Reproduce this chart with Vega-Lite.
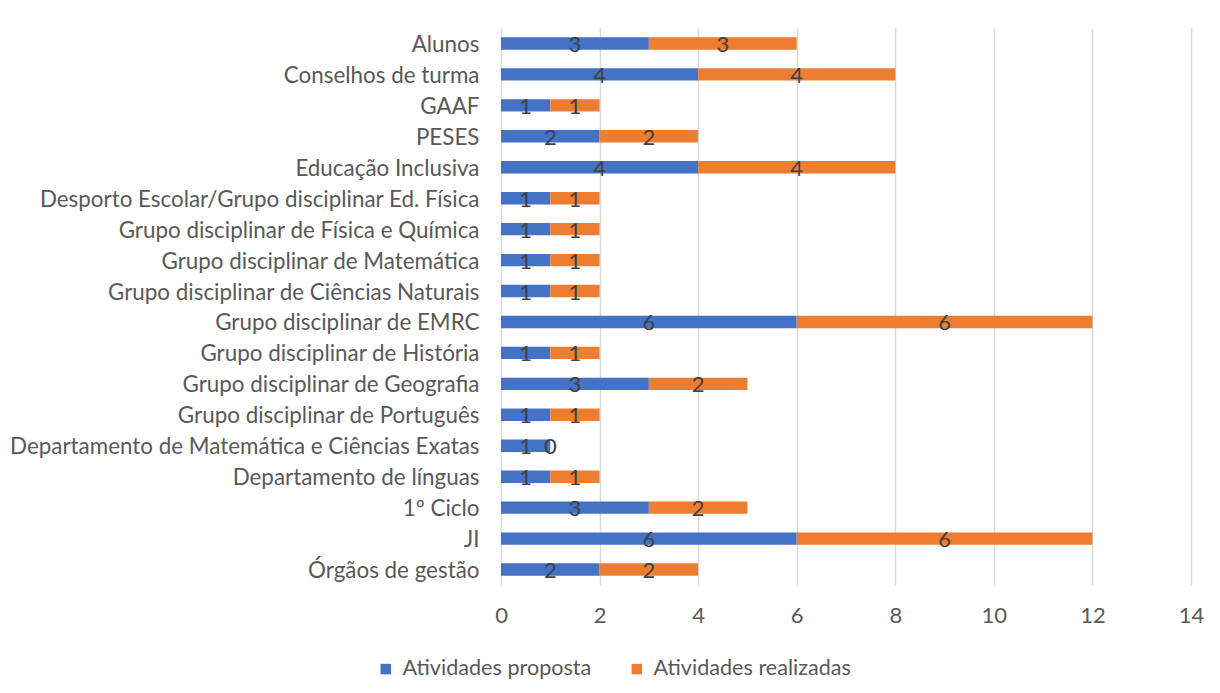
{
  "$schema": "https://vega.github.io/schema/vega-lite/v6.json",
  "width": 690,
  "height": 557,
  "autosize": {"type": "none"},
  "padding": {"left": 501, "top": 28, "right": 29, "bottom": 108},
  "background": "white",
  "config": {
    "font": "Lato",
    "view": {"stroke": null}
  },
  "data": {
    "values": [
      {"cat": "Alunos", "serie": "Atividades proposta", "v": 3},
      {"cat": "Alunos", "serie": "Atividades realizadas", "v": 3},
      {"cat": "Conselhos de turma", "serie": "Atividades proposta", "v": 4},
      {"cat": "Conselhos de turma", "serie": "Atividades realizadas", "v": 4},
      {"cat": "GAAF", "serie": "Atividades proposta", "v": 1},
      {"cat": "GAAF", "serie": "Atividades realizadas", "v": 1},
      {"cat": "PESES", "serie": "Atividades proposta", "v": 2},
      {"cat": "PESES", "serie": "Atividades realizadas", "v": 2},
      {"cat": "Educação Inclusiva", "serie": "Atividades proposta", "v": 4},
      {"cat": "Educação Inclusiva", "serie": "Atividades realizadas", "v": 4},
      {"cat": "Desporto Escolar/Grupo disciplinar Ed. Física", "serie": "Atividades proposta", "v": 1},
      {"cat": "Desporto Escolar/Grupo disciplinar Ed. Física", "serie": "Atividades realizadas", "v": 1},
      {"cat": "Grupo disciplinar de Física e Química", "serie": "Atividades proposta", "v": 1},
      {"cat": "Grupo disciplinar de Física e Química", "serie": "Atividades realizadas", "v": 1},
      {"cat": "Grupo disciplinar de Matemática", "serie": "Atividades proposta", "v": 1},
      {"cat": "Grupo disciplinar de Matemática", "serie": "Atividades realizadas", "v": 1},
      {"cat": "Grupo disciplinar de Ciências Naturais", "serie": "Atividades proposta", "v": 1},
      {"cat": "Grupo disciplinar de Ciências Naturais", "serie": "Atividades realizadas", "v": 1},
      {"cat": "Grupo disciplinar de EMRC", "serie": "Atividades proposta", "v": 6},
      {"cat": "Grupo disciplinar de EMRC", "serie": "Atividades realizadas", "v": 6},
      {"cat": "Grupo disciplinar de História", "serie": "Atividades proposta", "v": 1},
      {"cat": "Grupo disciplinar de História", "serie": "Atividades realizadas", "v": 1},
      {"cat": "Grupo disciplinar de Geografia", "serie": "Atividades proposta", "v": 3},
      {"cat": "Grupo disciplinar de Geografia", "serie": "Atividades realizadas", "v": 2},
      {"cat": "Grupo disciplinar de Português", "serie": "Atividades proposta", "v": 1},
      {"cat": "Grupo disciplinar de Português", "serie": "Atividades realizadas", "v": 1},
      {"cat": "Departamento de Matemática e Ciências Exatas", "serie": "Atividades proposta", "v": 1},
      {"cat": "Departamento de Matemática e Ciências Exatas", "serie": "Atividades realizadas", "v": 0},
      {"cat": "Departamento de línguas", "serie": "Atividades proposta", "v": 1},
      {"cat": "Departamento de línguas", "serie": "Atividades realizadas", "v": 1},
      {"cat": "1º Ciclo", "serie": "Atividades proposta", "v": 3},
      {"cat": "1º Ciclo", "serie": "Atividades realizadas", "v": 2},
      {"cat": "JI", "serie": "Atividades proposta", "v": 6},
      {"cat": "JI", "serie": "Atividades realizadas", "v": 6},
      {"cat": "Órgãos de gestão", "serie": "Atividades proposta", "v": 2},
      {"cat": "Órgãos de gestão", "serie": "Atividades realizadas", "v": 2}
    ]
  },
  "transform": [
    {"stack": "v", "groupby": ["cat"], "sort": [{"field": "serie", "order": "ascending"}], "as": ["x0", "x1"]},
    {"calculate": "(datum.x0 + datum.x1) / 2", "as": "xm"}
  ],
  "encoding": {
    "y": {
      "field": "cat",
      "type": "nominal",
      "sort": null,
      "scale": {"paddingInner": 0.6, "paddingOuter": 0.3},
      "axis": {
        "title": null,
        "ticks": false,
        "domain": false,
        "labelFontSize": 22.4,
        "labelColor": "#595959",
        "labelPadding": 22,
        "labelOffset": 1.5,
        "labelLimit": 600
      }
    }
  },
  "layer": [
    {
      "mark": {"type": "bar"},
      "encoding": {
        "x": {
          "field": "x0",
          "type": "quantitative",
          "scale": {"domain": [0, 14]},
          "axis": {
            "title": null,
            "values": [0, 2, 4, 6, 8, 10, 12, 14],
            "ticks": false,
            "domain": false,
            "grid": true,
            "gridColor": "#d9d9d9",
            "gridWidth": 1.5,
            "labelFlush": false,
            "labelFontSize": 22,
            "labelColor": "#595959",
            "labelPadding": 20
          }
        },
        "x2": {"field": "x1"},
        "color": {
          "field": "serie",
          "type": "nominal",
          "scale": {
            "domain": ["Atividades proposta", "Atividades realizadas"],
            "range": ["#4472C4", "#ED7D31"]
          },
          "legend": {
            "title": null,
            "orient": "none",
            "direction": "horizontal",
            "legendX": -126,
            "legendY": 630,
            "symbolType": "square",
            "symbolSize": 110,
            "symbolStrokeWidth": 0,
            "labelFontSize": 21.6,
            "labelLimit": 400,
            "labelColor": "#595959",
            "columnPadding": 34,
            "labelOffset": 6
          }
        }
      }
    },
    {
      "mark": {"type": "text", "fontSize": 22, "color": "#404040", "baseline": "middle", "dy": 1.5},
      "encoding": {
        "x": {"field": "xm", "type": "quantitative"},
        "text": {"field": "v", "type": "quantitative"}
      }
    }
  ]
}
